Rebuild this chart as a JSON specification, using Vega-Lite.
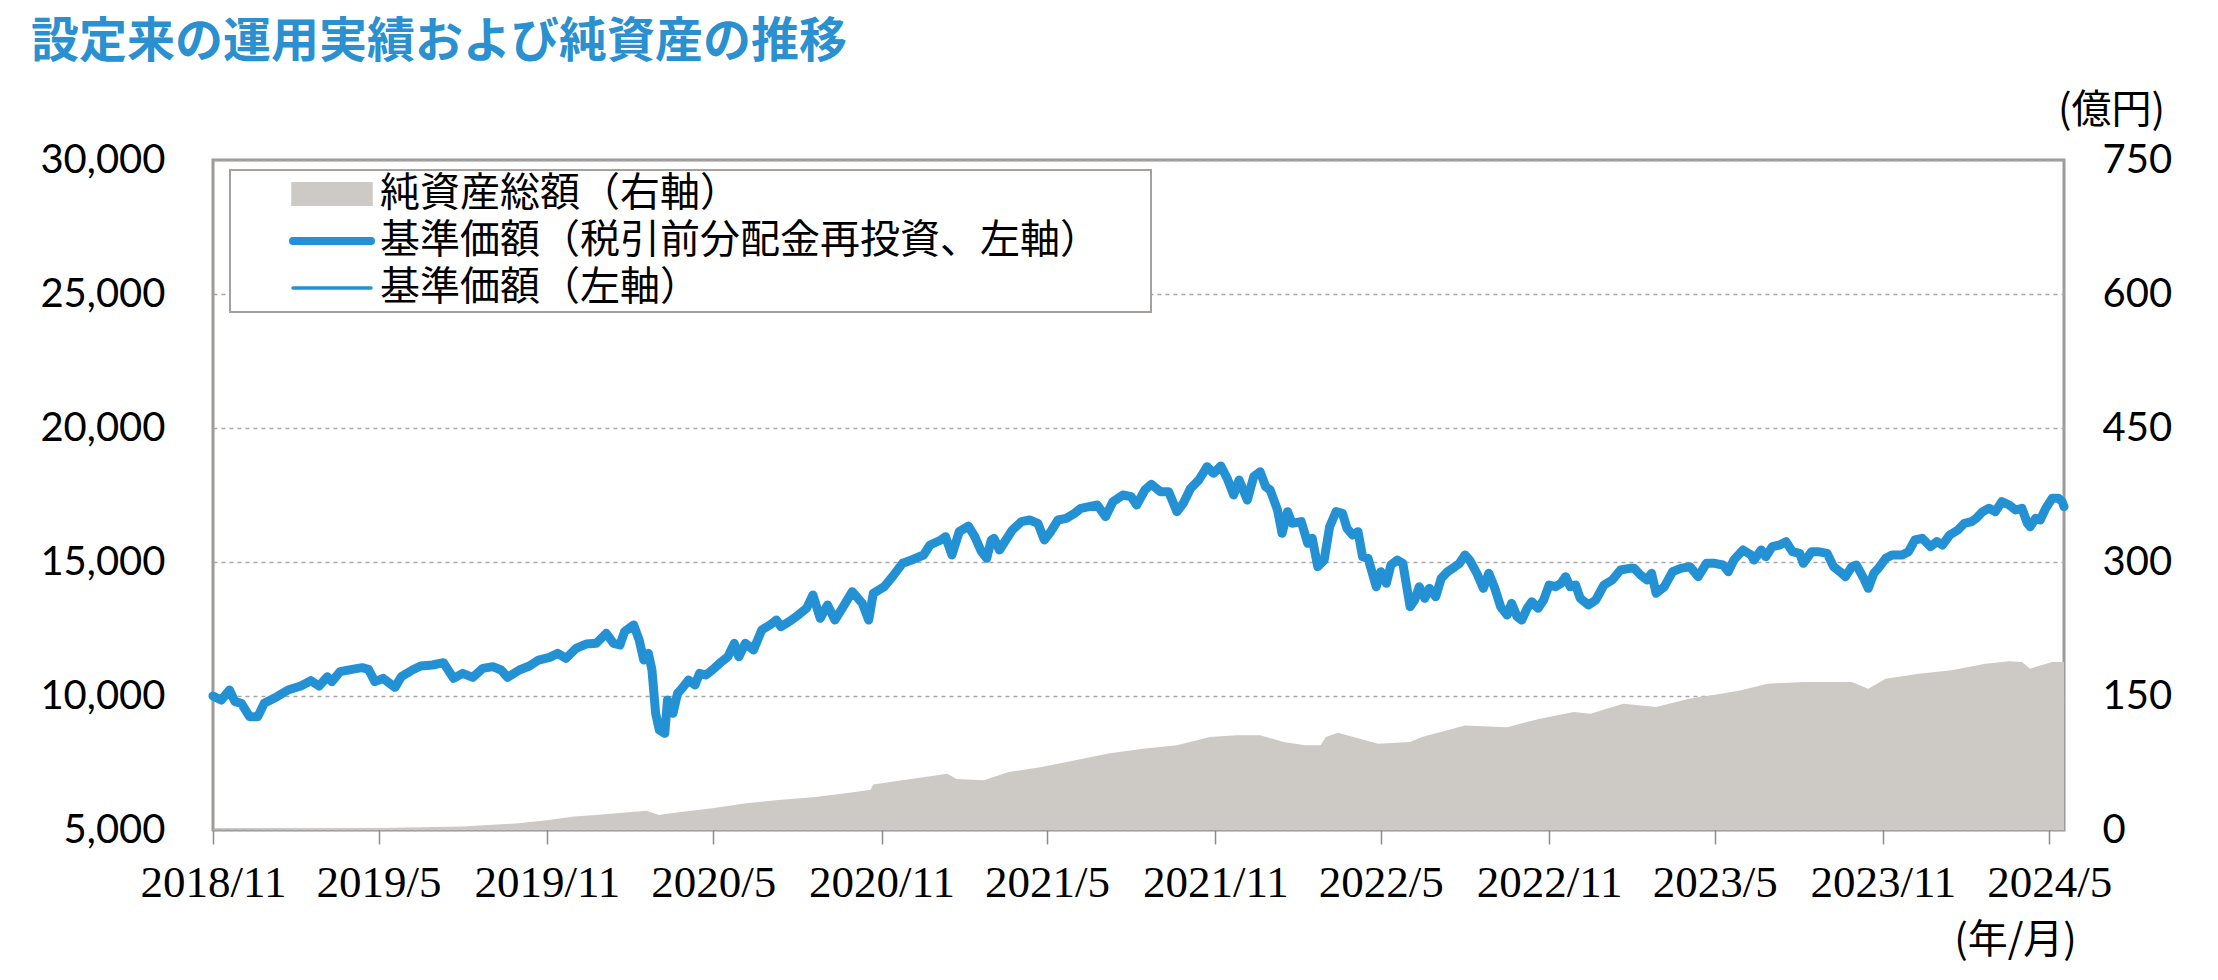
{
  "$schema": "https://vega.github.io/schema/vega-lite/v6.json",
  "width": 1851,
  "height": 670,
  "autosize": {"type": "none"},
  "padding": {"left": 213, "top": 160, "right": 154, "bottom": 150},
  "background": "white",
  "title": {"text": "設定来の運用実績および純資産の推移", "anchor": "start", "frame": "group", "dx": -182, "offset": 23, "font": "Noto Sans CJK JP", "fontSize": 48, "fontWeight": "bold", "color": "#2a90cf"},
  "config": {
    "view": {"stroke": "#9d9a97", "strokeWidth": 3},
    "font": "Noto Sans CJK JP"
  },
  "datasets": {
    "aum": [
      {"date": "2018-11-01", "aum": 0.5}, {"date": "2019-02-01", "aum": 1.2}, {"date": "2019-05-01", "aum": 2.2},
      {"date": "2019-08-01", "aum": 3.8}, {"date": "2019-10-01", "aum": 7.5}, {"date": "2019-11-01", "aum": 11},
      {"date": "2019-12-01", "aum": 15}, {"date": "2019-12-28", "aum": 17}, {"date": "2020-01-13", "aum": 18.6},
      {"date": "2020-02-18", "aum": 21.6}, {"date": "2020-03-03", "aum": 16.8}, {"date": "2020-03-09", "aum": 17.9},
      {"date": "2020-04-30", "aum": 24.3}, {"date": "2020-06-06", "aum": 29.9}, {"date": "2020-07-11", "aum": 33.6},
      {"date": "2020-08-18", "aum": 36.6}, {"date": "2020-09-23", "aum": 41}, {"date": "2020-10-20", "aum": 45},
      {"date": "2020-10-23", "aum": 51}, {"date": "2020-12-05", "aum": 57.5}, {"date": "2021-01-12", "aum": 63},
      {"date": "2021-01-22", "aum": 57}, {"date": "2021-02-21", "aum": 55.6}, {"date": "2021-03-20", "aum": 64.9},
      {"date": "2021-04-25", "aum": 70.5}, {"date": "2021-06-01", "aum": 78}, {"date": "2021-07-07", "aum": 85.5},
      {"date": "2021-08-14", "aum": 91}, {"date": "2021-09-20", "aum": 94.8}, {"date": "2021-10-26", "aum": 104},
      {"date": "2021-11-24", "aum": 106}, {"date": "2021-12-20", "aum": 106}, {"date": "2022-01-15", "aum": 98.5},
      {"date": "2022-02-07", "aum": 94.8}, {"date": "2022-02-24", "aum": 94.8}, {"date": "2022-03-02", "aum": 104},
      {"date": "2022-03-15", "aum": 109}, {"date": "2022-04-15", "aum": 100.3}, {"date": "2022-04-28", "aum": 96.6},
      {"date": "2022-06-02", "aum": 98.5}, {"date": "2022-06-15", "aum": 104}, {"date": "2022-08-01", "aum": 117},
      {"date": "2022-09-16", "aum": 115}, {"date": "2022-10-22", "aum": 124.6}, {"date": "2022-11-28", "aum": 132},
      {"date": "2022-12-16", "aum": 130}, {"date": "2023-01-21", "aum": 141.4}, {"date": "2023-02-26", "aum": 137.7},
      {"date": "2023-04-03", "aum": 147}, {"date": "2023-05-08", "aum": 152.6}, {"date": "2023-05-30", "aum": 156.4},
      {"date": "2023-06-28", "aum": 163.8}, {"date": "2023-08-05", "aum": 165.7}, {"date": "2023-09-28", "aum": 165.7},
      {"date": "2023-10-16", "aum": 158.2}, {"date": "2023-11-04", "aum": 169.4}, {"date": "2023-12-10", "aum": 175},
      {"date": "2024-01-15", "aum": 178.7}, {"date": "2024-02-21", "aum": 186.2}, {"date": "2024-03-18", "aum": 189},
      {"date": "2024-04-01", "aum": 188}, {"date": "2024-04-10", "aum": 180.6}, {"date": "2024-05-04", "aum": 188},
      {"date": "2024-05-17", "aum": 188}
    ],
    "nav": [
      {"date": "2018-11-01", "nav": 10000}, {"date": "2018-11-10", "nav": 9850}, {"date": "2018-11-19", "nav": 10224},
      {"date": "2018-11-25", "nav": 9788}, {"date": "2018-12-02", "nav": 9726}, {"date": "2018-12-11", "nav": 9229},
      {"date": "2018-12-20", "nav": 9229}, {"date": "2018-12-27", "nav": 9726}, {"date": "2019-01-10", "nav": 9975},
      {"date": "2019-01-22", "nav": 10224}, {"date": "2019-02-05", "nav": 10373}, {"date": "2019-02-16", "nav": 10572},
      {"date": "2019-02-25", "nav": 10373}, {"date": "2019-03-06", "nav": 10721}, {"date": "2019-03-11", "nav": 10535},
      {"date": "2019-03-20", "nav": 10908}, {"date": "2019-04-02", "nav": 10995}, {"date": "2019-04-13", "nav": 11057},
      {"date": "2019-04-20", "nav": 10995}, {"date": "2019-04-27", "nav": 10535}, {"date": "2019-05-06", "nav": 10659},
      {"date": "2019-05-19", "nav": 10323}, {"date": "2019-05-26", "nav": 10721}, {"date": "2019-06-07", "nav": 10970},
      {"date": "2019-06-16", "nav": 11119}, {"date": "2019-06-29", "nav": 11157}, {"date": "2019-07-11", "nav": 11243},
      {"date": "2019-07-22", "nav": 10659}, {"date": "2019-08-01", "nav": 10846}, {"date": "2019-08-12", "nav": 10697},
      {"date": "2019-08-23", "nav": 11032}, {"date": "2019-09-03", "nav": 11094}, {"date": "2019-09-12", "nav": 10970},
      {"date": "2019-09-19", "nav": 10697}, {"date": "2019-10-02", "nav": 10970}, {"date": "2019-10-13", "nav": 11119},
      {"date": "2019-10-23", "nav": 11343}, {"date": "2019-11-04", "nav": 11443}, {"date": "2019-11-13", "nav": 11592},
      {"date": "2019-11-22", "nav": 11405}, {"date": "2019-12-03", "nav": 11778}, {"date": "2019-12-14", "nav": 11940},
      {"date": "2019-12-25", "nav": 11965}, {"date": "2020-01-05", "nav": 12338}, {"date": "2020-01-13", "nav": 11965},
      {"date": "2020-01-20", "nav": 11903}, {"date": "2020-01-25", "nav": 12400}, {"date": "2020-02-04", "nav": 12649},
      {"date": "2020-02-10", "nav": 12089}, {"date": "2020-02-15", "nav": 11343}, {"date": "2020-02-20", "nav": 11592},
      {"date": "2020-02-24", "nav": 10970}, {"date": "2020-02-28", "nav": 9353}, {"date": "2020-03-03", "nav": 8731},
      {"date": "2020-03-09", "nav": 8607}, {"date": "2020-03-12", "nav": 9851}, {"date": "2020-03-18", "nav": 9353},
      {"date": "2020-03-23", "nav": 10099}, {"date": "2020-03-28", "nav": 10286}, {"date": "2020-04-04", "nav": 10597},
      {"date": "2020-04-11", "nav": 10410}, {"date": "2020-04-16", "nav": 10846}, {"date": "2020-04-23", "nav": 10783},
      {"date": "2020-04-30", "nav": 10970}, {"date": "2020-05-08", "nav": 11219}, {"date": "2020-05-17", "nav": 11467},
      {"date": "2020-05-24", "nav": 11965}, {"date": "2020-05-29", "nav": 11467}, {"date": "2020-06-05", "nav": 11965},
      {"date": "2020-06-14", "nav": 11716}, {"date": "2020-06-23", "nav": 12462}, {"date": "2020-07-02", "nav": 12649},
      {"date": "2020-07-09", "nav": 12835}, {"date": "2020-07-14", "nav": 12587}, {"date": "2020-07-23", "nav": 12773},
      {"date": "2020-08-02", "nav": 13022}, {"date": "2020-08-11", "nav": 13271}, {"date": "2020-08-18", "nav": 13768},
      {"date": "2020-08-26", "nav": 12897}, {"date": "2020-09-03", "nav": 13395}, {"date": "2020-09-11", "nav": 12835},
      {"date": "2020-09-19", "nav": 13271}, {"date": "2020-09-30", "nav": 13893}, {"date": "2020-10-11", "nav": 13457},
      {"date": "2020-10-18", "nav": 12835}, {"date": "2020-10-23", "nav": 13830}, {"date": "2020-11-04", "nav": 14079},
      {"date": "2020-11-13", "nav": 14453}, {"date": "2020-11-24", "nav": 14950}, {"date": "2020-12-04", "nav": 15074},
      {"date": "2020-12-17", "nav": 15261}, {"date": "2020-12-24", "nav": 15634}, {"date": "2021-01-05", "nav": 15821},
      {"date": "2021-01-10", "nav": 15945}, {"date": "2021-01-17", "nav": 15261}, {"date": "2021-01-25", "nav": 16132},
      {"date": "2021-02-04", "nav": 16340}, {"date": "2021-02-11", "nav": 15945}, {"date": "2021-02-18", "nav": 15400},
      {"date": "2021-02-24", "nav": 15136}, {"date": "2021-03-01", "nav": 15821}, {"date": "2021-03-04", "nav": 15883},
      {"date": "2021-03-10", "nav": 15448}, {"date": "2021-03-17", "nav": 15821}, {"date": "2021-03-24", "nav": 16194},
      {"date": "2021-04-03", "nav": 16505}, {"date": "2021-04-12", "nav": 16567}, {"date": "2021-04-21", "nav": 16443},
      {"date": "2021-04-28", "nav": 15821}, {"date": "2021-05-05", "nav": 16132}, {"date": "2021-05-13", "nav": 16567},
      {"date": "2021-05-22", "nav": 16629}, {"date": "2021-05-31", "nav": 16816}, {"date": "2021-06-07", "nav": 17002},
      {"date": "2021-06-16", "nav": 17064}, {"date": "2021-06-25", "nav": 17127}, {"date": "2021-07-04", "nav": 16691},
      {"date": "2021-07-12", "nav": 17251}, {"date": "2021-07-23", "nav": 17500}, {"date": "2021-08-01", "nav": 17438},
      {"date": "2021-08-07", "nav": 17127}, {"date": "2021-08-16", "nav": 17687}, {"date": "2021-08-23", "nav": 17898},
      {"date": "2021-09-02", "nav": 17624}, {"date": "2021-09-11", "nav": 17624}, {"date": "2021-09-20", "nav": 16878},
      {"date": "2021-09-27", "nav": 17189}, {"date": "2021-10-05", "nav": 17749}, {"date": "2021-10-14", "nav": 18060},
      {"date": "2021-10-23", "nav": 18557}, {"date": "2021-10-30", "nav": 18308}, {"date": "2021-11-07", "nav": 18582},
      {"date": "2021-11-14", "nav": 18122}, {"date": "2021-11-21", "nav": 17500}, {"date": "2021-11-27", "nav": 18060},
      {"date": "2021-12-06", "nav": 17313}, {"date": "2021-12-13", "nav": 18184}, {"date": "2021-12-20", "nav": 18370},
      {"date": "2021-12-26", "nav": 17811}, {"date": "2021-12-31", "nav": 17687}, {"date": "2022-01-08", "nav": 16940},
      {"date": "2022-01-13", "nav": 16069}, {"date": "2022-01-19", "nav": 16878}, {"date": "2022-01-24", "nav": 16443},
      {"date": "2022-02-03", "nav": 16505}, {"date": "2022-02-10", "nav": 15696}, {"date": "2022-02-15", "nav": 15883},
      {"date": "2022-02-21", "nav": 14825}, {"date": "2022-02-28", "nav": 15074}, {"date": "2022-03-06", "nav": 16318},
      {"date": "2022-03-13", "nav": 16878}, {"date": "2022-03-20", "nav": 16816}, {"date": "2022-03-25", "nav": 16256},
      {"date": "2022-03-31", "nav": 16007}, {"date": "2022-04-06", "nav": 16132}, {"date": "2022-04-11", "nav": 15199},
      {"date": "2022-04-17", "nav": 15136}, {"date": "2022-04-26", "nav": 14079}, {"date": "2022-05-01", "nav": 14639},
      {"date": "2022-05-07", "nav": 14204}, {"date": "2022-05-12", "nav": 14888}, {"date": "2022-05-19", "nav": 15074},
      {"date": "2022-05-25", "nav": 14950}, {"date": "2022-06-02", "nav": 13333}, {"date": "2022-06-07", "nav": 13582},
      {"date": "2022-06-12", "nav": 14079}, {"date": "2022-06-18", "nav": 13644}, {"date": "2022-06-23", "nav": 14017},
      {"date": "2022-06-30", "nav": 13706}, {"date": "2022-07-06", "nav": 14390}, {"date": "2022-07-13", "nav": 14639},
      {"date": "2022-07-21", "nav": 14826}, {"date": "2022-07-26", "nav": 14950}, {"date": "2022-08-01", "nav": 15261},
      {"date": "2022-08-06", "nav": 15074}, {"date": "2022-08-14", "nav": 14577}, {"date": "2022-08-21", "nav": 14017},
      {"date": "2022-08-27", "nav": 14577}, {"date": "2022-09-02", "nav": 14079}, {"date": "2022-09-09", "nav": 13333},
      {"date": "2022-09-16", "nav": 13022}, {"date": "2022-09-21", "nav": 13457}, {"date": "2022-09-27", "nav": 12960},
      {"date": "2022-10-02", "nav": 12835}, {"date": "2022-10-08", "nav": 13271}, {"date": "2022-10-13", "nav": 13519},
      {"date": "2022-10-20", "nav": 13271}, {"date": "2022-10-26", "nav": 13582}, {"date": "2022-11-01", "nav": 14142},
      {"date": "2022-11-08", "nav": 14079}, {"date": "2022-11-14", "nav": 14204}, {"date": "2022-11-19", "nav": 14453},
      {"date": "2022-11-24", "nav": 14079}, {"date": "2022-11-30", "nav": 14142}, {"date": "2022-12-05", "nav": 13644},
      {"date": "2022-12-14", "nav": 13395}, {"date": "2022-12-22", "nav": 13582}, {"date": "2022-12-31", "nav": 14142},
      {"date": "2023-01-09", "nav": 14328}, {"date": "2023-01-18", "nav": 14702}, {"date": "2023-01-28", "nav": 14764},
      {"date": "2023-02-02", "nav": 14764}, {"date": "2023-02-09", "nav": 14515}, {"date": "2023-02-16", "nav": 14328},
      {"date": "2023-02-21", "nav": 14577}, {"date": "2023-02-26", "nav": 13830}, {"date": "2023-03-07", "nav": 14079},
      {"date": "2023-03-16", "nav": 14639}, {"date": "2023-03-25", "nav": 14764}, {"date": "2023-04-04", "nav": 14826},
      {"date": "2023-04-13", "nav": 14453}, {"date": "2023-04-22", "nav": 14950}, {"date": "2023-05-01", "nav": 14950},
      {"date": "2023-05-10", "nav": 14888}, {"date": "2023-05-16", "nav": 14639}, {"date": "2023-05-22", "nav": 15074},
      {"date": "2023-06-01", "nav": 15448}, {"date": "2023-06-10", "nav": 15261}, {"date": "2023-06-13", "nav": 15074},
      {"date": "2023-06-21", "nav": 15448}, {"date": "2023-06-26", "nav": 15199}, {"date": "2023-07-03", "nav": 15572},
      {"date": "2023-07-11", "nav": 15634}, {"date": "2023-07-18", "nav": 15759}, {"date": "2023-07-25", "nav": 15386},
      {"date": "2023-08-02", "nav": 15323}, {"date": "2023-08-06", "nav": 14950}, {"date": "2023-08-15", "nav": 15386},
      {"date": "2023-08-22", "nav": 15386}, {"date": "2023-09-01", "nav": 15323}, {"date": "2023-09-08", "nav": 14826},
      {"date": "2023-09-15", "nav": 14639}, {"date": "2023-09-21", "nav": 14452}, {"date": "2023-09-28", "nav": 14826},
      {"date": "2023-10-03", "nav": 14888}, {"date": "2023-10-11", "nav": 14390}, {"date": "2023-10-16", "nav": 14017},
      {"date": "2023-10-22", "nav": 14577}, {"date": "2023-10-27", "nav": 14764}, {"date": "2023-11-04", "nav": 15136},
      {"date": "2023-11-11", "nav": 15261}, {"date": "2023-11-22", "nav": 15261}, {"date": "2023-11-29", "nav": 15386},
      {"date": "2023-12-06", "nav": 15821}, {"date": "2023-12-14", "nav": 15883}, {"date": "2023-12-23", "nav": 15572},
      {"date": "2023-12-30", "nav": 15759}, {"date": "2024-01-05", "nav": 15634}, {"date": "2024-01-13", "nav": 16007},
      {"date": "2024-01-22", "nav": 16194}, {"date": "2024-01-29", "nav": 16443}, {"date": "2024-02-06", "nav": 16505},
      {"date": "2024-02-11", "nav": 16629}, {"date": "2024-02-18", "nav": 16878}, {"date": "2024-02-25", "nav": 17002},
      {"date": "2024-03-03", "nav": 16878}, {"date": "2024-03-10", "nav": 17251}, {"date": "2024-03-18", "nav": 17127},
      {"date": "2024-03-25", "nav": 16940}, {"date": "2024-04-01", "nav": 17002}, {"date": "2024-04-07", "nav": 16443},
      {"date": "2024-04-10", "nav": 16318}, {"date": "2024-04-16", "nav": 16629}, {"date": "2024-04-21", "nav": 16567},
      {"date": "2024-04-27", "nav": 17002}, {"date": "2024-05-04", "nav": 17375}, {"date": "2024-05-11", "nav": 17375},
      {"date": "2024-05-15", "nav": 17251}, {"date": "2024-05-17", "nav": 17064}
    ]
  },
  "layer": [
    {
      "data": {"name": "aum"},
      "mark": {"type": "area", "interpolate": "linear"},
      "encoding": {
        "x": {
          "field": "date", "type": "temporal",
          "scale": {"type": "utc", "domain": [{"year": 2018, "month": 11, "date": 1, "utc": true}, {"year": 2024, "month": 5, "date": 17, "utc": true}]},
          "axis": {
            "values": [
              {"year": 2018, "month": 11, "date": 1, "utc": true}, {"year": 2019, "month": 5, "date": 1, "utc": true},
              {"year": 2019, "month": 11, "date": 1, "utc": true}, {"year": 2020, "month": 5, "date": 1, "utc": true},
              {"year": 2020, "month": 11, "date": 1, "utc": true}, {"year": 2021, "month": 5, "date": 1, "utc": true},
              {"year": 2021, "month": 11, "date": 1, "utc": true}, {"year": 2022, "month": 5, "date": 1, "utc": true},
              {"year": 2022, "month": 11, "date": 1, "utc": true}, {"year": 2023, "month": 5, "date": 1, "utc": true},
              {"year": 2023, "month": 11, "date": 1, "utc": true}, {"year": 2024, "month": 5, "date": 1, "utc": true}
            ],
            "format": "%Y/%-m",
            "labelFont": "Liberation Sans Narrow",
            "labelFontSize": 45,
            "labelColor": "#000000",
            "labelPadding": 16,
            "labelFlush": false,
            "labelOverlap": false,
            "tickSize": 14,
            "tickColor": "#8c8c8c",
            "tickWidth": 1.5,
            "domain": false,
            "grid": false,
            "title": "(年/月)",
            "titleFont": "Noto Sans CJK JP",
            "titleFontWeight": "normal",
            "titleFontSize": 40,
            "titleColor": "#000000",
            "titleX": 1802,
            "titleY": 110,
            "titleAlign": "center",
            "titleBaseline": "middle"
          }
        },
        "y": {
          "field": "aum", "type": "quantitative",
          "scale": {"domain": [0, 750], "nice": false, "zero": true},
          "axis": {
            "orient": "right",
            "values": [0, 150, 300, 450, 600, 750],
            "format": ",.0f",
            "labelFont": "Lato",
            "labelFontSize": 40,
            "labelColor": "#000000",
            "labelPadding": 38,
            "ticks": false,
            "domain": false,
            "grid": false,
            "title": "(億円)",
            "titleFont": "Noto Sans CJK JP",
            "titleFontWeight": "normal",
            "titleFontSize": 40,
            "titleColor": "#000000",
            "titleAngle": 0,
            "titleX": 47,
            "titleY": -50,
            "titleAlign": "center",
            "titleBaseline": "middle"
          }
        },
        "color": {
          "datum": "純資産総額（右軸）",
          "type": "nominal",
          "scale": {"domain": ["純資産総額（右軸）", "基準価額（税引前分配金再投資、左軸）", "基準価額（左軸）"], "range": ["#cdc9c4", "#2391d3", "#2391d3"]},
          "legend": {
            "orient": "none",
            "legendX": 17,
            "legendY": 10,
            "title": null,
            "direction": "vertical",
            "padding": 4,
            "labelFont": "Noto Sans CJK JP",
            "labelFontSize": 40,
            "labelColor": "#000000",
            "labelLimit": 2000,
            "labelOffset": 28,
            "symbolSize": 6084,
            "symbolOffset": 78,
            "rowPadding": 7,
            "encode": {
              "legend": {"update": {"stroke": {"value": "#a3a09d"}, "strokeWidth": {"value": 2}, "fill": {"value": "#ffffff"}}},
              "symbols": {"update": {
                "shape": {"signal": "datum.value === '純資産総額（右軸）' ? 'M-1,-0.26H1V0.26H-1ZM20.7,0' : 'stroke'"},
                "fill": {"signal": "datum.value === '純資産総額（右軸）' ? '#cdc9c4' : 'transparent'"},
                "stroke": {"signal": "datum.value === '純資産総額（右軸）' ? 'transparent' : '#2391d3'"},
                "strokeWidth": {"signal": "datum.value === '基準価額（税引前分配金再投資、左軸）' ? 8 : 3.5"},
                "strokeCap": {"value": "round"},
                "opacity": {"value": 1}
              }}
            }
          }
        }
      }
    },
    {
      "data": {"name": "nav"},
      "layer": [
        {
          "mark": {"type": "line", "strokeWidth": 9, "strokeCap": "round", "strokeJoin": "round"},
          "encoding": {
            "x": {"field": "date", "type": "temporal", "scale": {"type": "utc", "domain": [{"year": 2018, "month": 11, "date": 1, "utc": true}, {"year": 2024, "month": 5, "date": 17, "utc": true}]}},
            "y": {
              "field": "nav", "type": "quantitative",
              "scale": {"domain": [5000, 30000], "nice": false, "zero": false},
              "axis": {
                "orient": "left",
                "values": [5000, 10000, 15000, 20000, 25000, 30000],
                "format": ",.0f",
                "labelFont": "Lato",
                "labelFontSize": 40,
                "labelColor": "#000000",
                "labelPadding": 48,
                "ticks": false,
                "domain": false,
                "grid": true,
                "gridDash": [4, 4],
                "gridColor": "#a6a6a6",
                "gridWidth": 1.3,
                "title": null
              }
            },
            "color": {"datum": "基準価額（税引前分配金再投資、左軸）", "type": "nominal"}
          }
        },
        {
          "mark": {"type": "line", "strokeWidth": 3, "strokeJoin": "round"},
          "encoding": {
            "x": {"field": "date", "type": "temporal", "scale": {"type": "utc", "domain": [{"year": 2018, "month": 11, "date": 1, "utc": true}, {"year": 2024, "month": 5, "date": 17, "utc": true}]}},
            "y": {"field": "nav", "type": "quantitative"},
            "color": {"datum": "基準価額（左軸）", "type": "nominal"}
          }
        }
      ]
    }
  ],
  "resolve": {"scale": {"y": "independent"}}
}
